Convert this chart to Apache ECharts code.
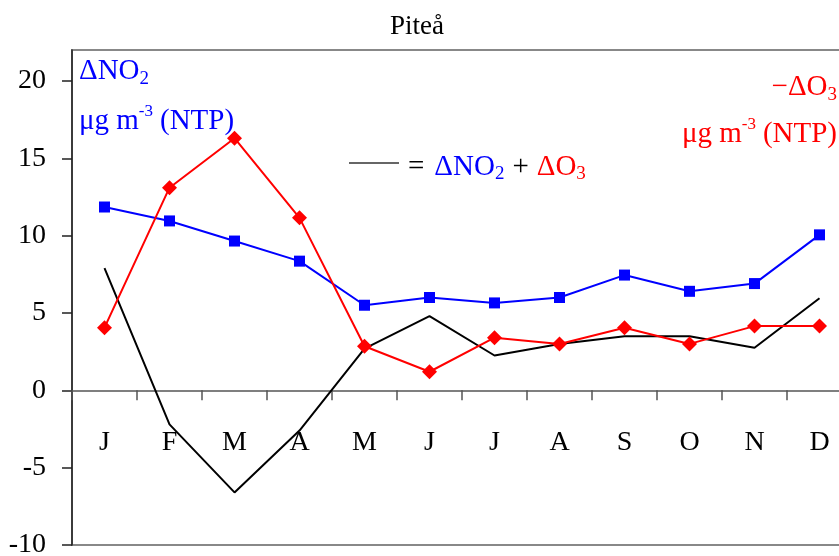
<!DOCTYPE html>
<html>
<head>
<meta charset="utf-8">
<script src="https://cdn.jsdelivr.net/npm/echarts@6/dist/echarts.min.js"></script>
<style>
  html, body { margin: 0; padding: 0; background: #fff; }
  #chart { width: 839px; height: 556px; }
</style>
</head>
<body>
<div id="chart"></div>
<script>
// Monthly differences at Piteå (µg m-3, NTP)
const months = ['J', 'F', 'M', 'A', 'M', 'J', 'J', 'A', 'S', 'O', 'N', 'D'];
const deltaNO2 = [11.85, 10.95, 9.65, 8.35, 5.5, 6.0, 5.65, 6.0, 7.45, 6.4, 6.9, 10.05];
const negDeltaO3 = [4.05, 13.1, 16.3, 11.15, 2.85, 1.2, 3.4, 3.0, 4.05, 3.0, 4.15, 4.15];
const sumNO2O3 = [7.9, -2.2, -6.6, -2.6, 2.7, 4.8, 2.25, 3.0, 3.5, 3.5, 2.75, 5.95];
const yTicks = [-10, -5, 0, 5, 10, 15, 20];
const Y_MIN = -10, Y_MAX = 22;

const FONT = '"Liberation Serif", "Times New Roman", serif';
const BLUE = '#0000ff';
const RED = '#ff0000';

// Plot rectangle
const GRID_LEFT = 72, GRID_TOP = 50, GRID_W = 780, GRID_H = 495;
// The month axis sits on the zero line: shift it up from the grid bottom.
const zeroOffset = -GRID_H * (0 - Y_MIN) / (Y_MAX - Y_MIN);

// Lay out a run of text fragments (normal / subscript / superscript) side by side.
const measureCtx = document.createElement('canvas').getContext('2d');
function textWidth(t, size) {
  measureCtx.font = size + 'px ' + FONT;
  return measureCtx.measureText(t).width;
}
function textRun(parts, x, y, align) {
  const widths = parts.map(p => textWidth(p.t, p.s) + (p.gap || 0));
  const total = widths.reduce((a, b) => a + b, 0);
  let cx = align === 'right' ? x - total : x;
  const els = [];
  parts.forEach((p, i) => {
    els.push({
      type: 'text',
      x: cx,
      y: y + (p.dy || 0),
      z: 100,
      style: {
        text: p.t,
        fill: p.c,
        font: p.s + 'px ' + FONT,
        align: 'left',
        verticalAlign: 'middle'
      }
    });
    cx += widths[i];
  });
  return els;
}

const graphics = [].concat(
  [{
    type: 'text', x: 417, y: 27, z: 100,
    style: { text: 'Piteå', fill: '#000', font: '27px ' + FONT, align: 'center', verticalAlign: 'middle' }
  }],
  textRun([
    { t: 'ΔNO', s: 29, c: BLUE },
    { t: '2', s: 19, c: BLUE, dy: 8 }
  ], 79, 71, 'left'),
  textRun([
    { t: 'μg m', s: 29, c: BLUE },
    { t: '-3', s: 17, c: BLUE, dy: -9, gap: 7 },
    { t: '(NTP)', s: 29, c: BLUE }
  ], 79, 121, 'left'),
  textRun([
    { t: '−ΔO', s: 29, c: RED },
    { t: '3', s: 19, c: RED, dy: 8 }
  ], 837, 87, 'right'),
  textRun([
    { t: 'μg m', s: 29, c: RED },
    { t: '-3', s: 17, c: RED, dy: -9, gap: 7 },
    { t: '(NTP)', s: 29, c: RED }
  ], 837, 134, 'right'),
  [{
    type: 'line', z: 100,
    shape: { x1: 349, y1: 163, x2: 399, y2: 163 },
    style: { stroke: '#333', lineWidth: 1.5 }
  }],
  textRun([
    { t: '=', s: 29, c: '#000', gap: 10 },
    { t: 'ΔNO', s: 29, c: BLUE },
    { t: '2', s: 19, c: BLUE, dy: 7, gap: 8 },
    { t: '+', s: 29, c: '#000', gap: 8 },
    { t: 'ΔO', s: 29, c: RED },
    { t: '3', s: 19, c: RED, dy: 7 }
  ], 408, 167, 'left')
);

const chart = echarts.init(document.getElementById('chart'), null, { renderer: 'canvas' });
chart.setOption({
  animation: false,
  backgroundColor: '#fff',
  grid: {
    left: GRID_LEFT, top: GRID_TOP, width: GRID_W, height: GRID_H,
    outerBoundsMode: 'none',
    containLabel: false,
    show: true, borderColor: '#888', borderWidth: 2, backgroundColor: 'transparent'
  },
  xAxis: {
    type: 'category',
    data: months,
    boundaryGap: true,
    offset: zeroOffset,
    axisLine: { onZero: false, lineStyle: { color: '#555', width: 1.5 } },
    axisTick: { show: true, inside: false, length: 10, lineStyle: { color: '#555', width: 1.5 } },
    axisLabel: { interval: 0, margin: 38, color: '#000', fontFamily: FONT, fontSize: 28 },
    splitLine: { show: false }
  },
  yAxis: {
    type: 'value',
    min: Y_MIN, max: Y_MAX,
    axisLine: { show: true, lineStyle: { color: '#222', width: 1.5 } },
    axisTick: { show: true, length: 10, customValues: yTicks, lineStyle: { color: '#222', width: 1.5 } },
    axisLabel: { margin: 26, color: '#000', fontFamily: FONT, fontSize: 28, customValues: yTicks },
    splitLine: { show: false }
  },
  graphic: graphics,
  series: [
    {
      name: 'ΔNO2 + ΔO3', type: 'line', data: sumNO2O3,
      showSymbol: false, symbol: 'none',
      lineStyle: { color: '#000', width: 2 }, z: 3
    },
    {
      name: 'ΔNO2', type: 'line', data: deltaNO2,
      symbol: 'rect', symbolSize: 11,
      itemStyle: { color: BLUE },
      lineStyle: { color: BLUE, width: 2 }, z: 4
    },
    {
      name: '−ΔO3', type: 'line', data: negDeltaO3,
      symbol: 'diamond', symbolSize: 15,
      itemStyle: { color: RED },
      lineStyle: { color: RED, width: 2 }, z: 5
    }
  ]
});
</script>
</body>
</html>
